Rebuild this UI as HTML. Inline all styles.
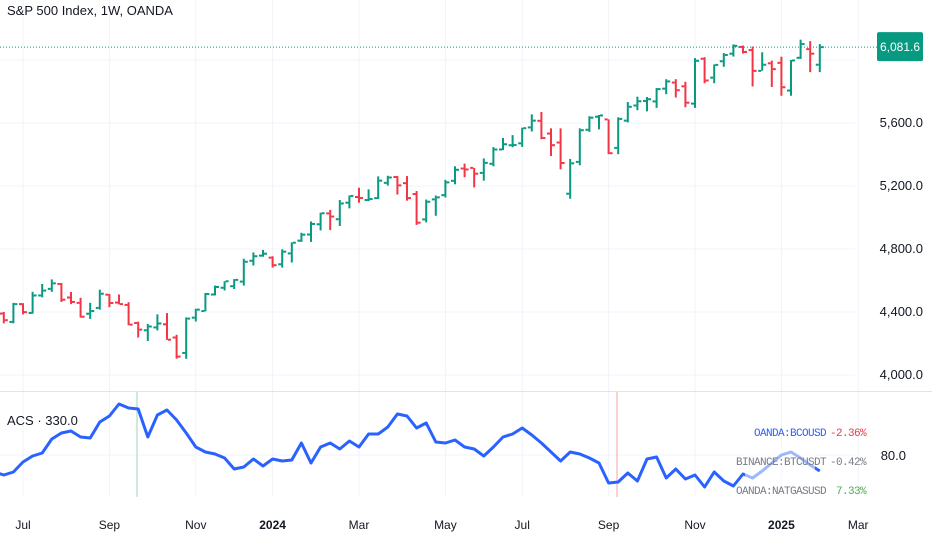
<!DOCTYPE html>
<html><head><meta charset="utf-8">
<style>
html,body{margin:0;padding:0;background:#fff;}
body{width:932px;height:550px;overflow:hidden;font-family:"Liberation Sans",sans-serif;}
svg{display:block;}
</style></head>
<body>
<svg id="chart" width="932" height="550" viewBox="0 0 932 550" xmlns="http://www.w3.org/2000/svg">
<g id="grid"></g>
<g id="bars"></g>
<g id="acs"></g>
<g id="axes"></g>
<text x="7" y="15" font-size="13" fill="#131722" font-family="Liberation Sans, sans-serif">S&amp;P 500 Index, 1W, OANDA</text>
<text x="7" y="425" font-size="13" fill="#131722">ACS · 330.0</text>
</svg>
<script>
// week index: 0 = 2023-07-03
const weeks = [-2,-1,0,1,2,3,4,5,6,7,8,9,10,11,12,13,14,15,16,17,18,19,20,21,22,23,24,25,26,27,28,29,30,31,32,33,34,35,36,37,38,39,40,41,42,43,44,45,46,47,48,49,50,51,52,53,54,55,56,57,58,59,60,61,62,63,64,65,66,67,68,69,70,71,72,73,74,75,76,77,78,79,80,81,82,83];
const opens = [4390,4337,4450,4394,4505,4547,4578,4492,4458,4389,4426,4510,4460,4445,4330,4284,4302,4322,4238,4140,4364,4406,4511,4554,4564,4593,4725,4758,4745,4703,4772,4853,4892,4957,5026,4989,5094,5130,5111,5123,5220,5257,5218,5149,4988,5115,5142,5233,5311,5315,5283,5341,5432,5459,5471,5572,5614,5533,5476,5151,5353,5557,5640,5623,5442,5615,5711,5740,5737,5818,5857,5833,5723,6008,5888,5992,6040,6083,6063,5931,5979,5982,5806,6014,6069,5970];
const highs = [4400,4458,4456,4528,4578,4607,4584,4527,4490,4458,4542,4515,4511,4462,4339,4324,4385,4393,4255,4366,4421,4521,4568,4595,4609,4738,4778,4794,4754,4798,4842,4903,4975,5030,5048,5111,5140,5189,5179,5261,5265,5264,5263,5168,5114,5139,5239,5325,5342,5315,5375,5447,5505,5523,5570,5655,5670,5566,5566,5372,5566,5643,5651,5623,5636,5733,5767,5765,5822,5878,5878,5862,6012,6018,5972,6044,6099,6092,6085,6049,5996,6021,6000,6129,6120,6101];
const lows = [4328,4328,4385,4389,4493,4528,4464,4450,4364,4356,4415,4431,4448,4316,4238,4216,4283,4223,4104,4103,4340,4404,4505,4537,4546,4568,4695,4751,4682,4682,4714,4845,4845,4918,4920,4946,5058,5094,5104,5117,5203,5146,5107,4953,4969,5011,5127,5211,5256,5191,5234,5325,5428,5446,5448,5546,5497,5390,5306,5119,5332,5544,5560,5402,5402,5604,5681,5674,5696,5783,5762,5700,5696,5853,5853,5957,6022,6041,5832,5932,5829,5773,5773,6007,5923,5923];
const closes = [4348,4450,4399,4505,4536,4582,4478,4464,4370,4406,4516,4457,4450,4320,4288,4308,4327,4224,4117,4358,4415,4514,4559,4595,4604,4719,4754,4770,4697,4783,4840,4891,4959,5027,5006,5089,5137,5124,5117,5234,5254,5204,5123,4967,5100,5128,5223,5303,5305,5278,5347,5432,5465,5460,5567,5615,5505,5459,5346,5344,5554,5634,5648,5408,5626,5703,5738,5751,5815,5864,5808,5729,5995,5870,5969,6032,6090,6051,5931,5970,5942,5827,5997,6101,6040,6081.6];
const priceTicks = [4000,4400,4800,5200,5600,6000];
const priceTickLabels = ["4,000.0","4,400.0","4,800.0","5,200.0","5,600.0","6,000.0"];
const lastPrice = 6081.6;
const lastPriceLabel = "6,081.6";
const timeTickWeeks = [0,9,18,26,35,44,52,61,70,79,87];
const timeTickLabels = ["Jul","Sep","Nov","2024","Mar","May","Jul","Sep","Nov","2025","Mar"];
const acsWeeks = [-3,-2,-1,0,1,2,3,4,5,6,7,8,9,10,11,12,13,14,15,16,17,18,19,20,21,22,23,24,25,26,27,28,29,30,31,32,33,34,35,36,37,38,39,40,41,42,43,44,45,46,47,48,49,50,51,52,53,54,55,56,57,58,59,60,61,62,63,64,65,66,67,68,69,70,71,72,73,74,75,76,77,78,79,80,81,82,83];
const acsValues = [63,60,63,73,79,82,96,102,104,98,97,113,119,131,127,126,98,120,125,115,102,88,83,81,77,66,68,76,69,76,74,75,92,72,88,92,86,94,88,101,101,108,121,119,107,112,93,92,95,88,86,79,88,98,101,107,100,92,83,74,83,81,77,72,52,53,62,54,76,78,57,66,56,60,48,63,54,49,61,57,64,72,80,83,77,70,64];

const NS = "http://www.w3.org/2000/svg";
const xOf = w => 23 + 9.6 * w;
const yOf = p => 375 - (p - 4000) * 0.1575;
const yAcs = v => 455 - (v - 80);
function mk(tag, attrs, parent){const e=document.createElementNS(NS,tag);for(const k in attrs)e.setAttribute(k,attrs[k]);parent.appendChild(e);return e;}

const grid = document.getElementById('grid');
const bars = document.getElementById('bars');
const acs = document.getElementById('acs');
const axes = document.getElementById('axes');

priceTicks.forEach((p,i)=>{
  const l = mk('line',{x1:0,x2:855,y1:yOf(p),y2:yOf(p),stroke:'#f0f3fa','stroke-width':1},grid);
  
  
});
const g80 = mk('line',{x1:0,x2:855,y1:yAcs(80),y2:yAcs(80),stroke:'#f0f3fa','stroke-width':1},grid);


timeTickWeeks.forEach(w=>{
  const l = mk('line',{x1:xOf(w),x2:xOf(w),y1:0,y2:497,stroke:'#f0f3fa','stroke-width':1},grid);
  
  
});

const lp = mk('line',{x1:0,x2:877,y1:yOf(lastPrice),y2:yOf(lastPrice),stroke:'#089981','stroke-width':1,'stroke-dasharray':'1 2'},bars);



weeks.forEach((w,i)=>{
  const x = xOf(w), up = closes[i] >= opens[i];
  const col = up ? '#089981' : '#f23645';
  const g = mk('g',{fill:col},bars);
  
  
  const yh = yOf(highs[i]), yl = yOf(lows[i]);
  mk('rect',{x:x-1,y:yh,width:2,height:Math.max(1,yl-yh)},g);
  mk('rect',{x:x-4,y:yOf(opens[i])-1,width:3,height:2},g);
  mk('rect',{x:x+1,y:yOf(closes[i])-1,width:3,height:2},g);
});

const sep = mk('line',{x1:0,x2:932,y1:391.5,y2:391.5,stroke:'#e0e3eb','stroke-width':1},axes);



const vg = mk('line',{x1:137,x2:137,y1:392,y2:497,stroke:'#9ed6b5','stroke-width':1},acs);


const vr = mk('line',{x1:617,x2:617,y1:392,y2:497,stroke:'#f5a3ab','stroke-width':1},acs);



const pts = acsWeeks.map((w,i)=>xOf(w).toFixed(1)+','+yAcs(acsValues[i]).toFixed(1)).join(' ');
const clipDef = mk('clipPath',{id:'acsclip'},acs);
mk('rect',{x:0,y:392,width:855,height:105},clipDef);
const clipDef2 = mk('clipPath',{id:'legclip'},acs);
mk('rect',{x:0,y:392,width:875,height:105},clipDef2);
const line = mk('polyline',{points:pts,fill:'none',stroke:'#2962ff','stroke-width':3,'stroke-linejoin':'round','clip-path':'url(#acsclip)'},acs);



const leg = mk('g',{'clip-path':'url(#legclip)','font-family':'Liberation Mono, monospace','font-size':'11'},acs);


mk('rect',{x:745,y:448,width:70,height:49,fill:'#ffffff','fill-opacity':0.55},leg);
const legendRows = [
  ['OANDA:BCOUSD','#2962ff','-2.36%','#f23645',436],
  ['BINANCE:BTCUSDT','#787b86','-0.42%','#787b86',465],
  ['OANDA:NATGASUSD','#787b86','7.33%','#4caf50',494]
];
legendRows.forEach(r=>{
  const t = mk('text',{x:826,y:r[4],'text-anchor':'end',fill:r[1],'letter-spacing':'-0.6'},leg);
  t.textContent = r[0];
  
  
  const v = mk('text',{x:866,y:r[4],'text-anchor':'end',fill:r[3],'letter-spacing':'-0.6'},leg);
  v.textContent = r[2];
  
  
});

priceTicks.forEach((p,i)=>{
  if (Math.abs(yOf(p)-yOf(lastPrice))<14) return;
  const t = mk('text',{x:923,y:yOf(p)+4,'text-anchor':'end','font-size':'13',fill:'#131722'},axes);
  t.textContent = priceTickLabels[i];
  
  
});
const acsLab = mk('text',{x:906,y:yAcs(80)+5,'text-anchor':'end','font-size':'13',fill:'#131722'},axes);
acsLab.textContent = '80.0';



const by = yOf(lastPrice);
const badge = mk('rect',{x:877,y:by-15,width:46,height:29,rx:2,fill:'#089981'},axes);


const bt = mk('text',{x:900,y:by+4,'text-anchor':'middle','font-size':'12',fill:'#ffffff'},axes);
bt.textContent = lastPriceLabel;



timeTickWeeks.forEach((w,i)=>{
  const bold = /^\d{4}$/.test(timeTickLabels[i]);
  const t = mk('text',{x:xOf(w),y:529,'text-anchor':'middle','font-size':'12',fill:'#131722','font-weight':bold?'bold':'normal'},axes);
  t.textContent = timeTickLabels[i];
  
  
});
</script>
</body></html>
